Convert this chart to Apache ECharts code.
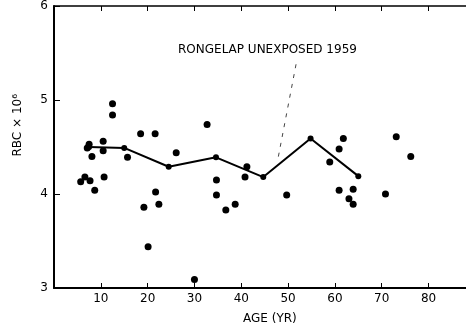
<!DOCTYPE html>
<html>
<head>
<meta charset="utf-8">
<script src="https://cdn.jsdelivr.net/npm/echarts@6/dist/echarts.min.js"></script>
<style>html,body{margin:0;padding:0;background:#fff;}#c{width:466px;height:327px;}</style>
</head>
<body>
<div id="c"></div>
<script>
// Individual observations
const ages = [5.7, 6.6, 7.7, 8.7, 7.5, 7.1, 8.1, 10.5, 10.5, 10.7, 12.5, 12.5, 15.7, 18.5, 19.2, 20.1, 21.6, 21.7, 22.4, 26.1, 30.0, 32.7, 34.7, 34.7, 36.7, 38.7, 40.8, 41.2, 49.7, 58.9, 60.9, 61.8, 60.9, 63.9, 63.0, 63.9, 70.8, 73.1, 76.2];
const rbc  = [4.13, 4.18, 4.14, 4.04, 4.53, 4.49, 4.40, 4.56, 4.46, 4.18, 4.96, 4.84, 4.39, 4.64, 3.86, 3.44, 4.64, 4.02, 3.89, 4.44, 3.09, 4.74, 4.15, 3.99, 3.83, 3.89, 4.18, 4.29, 3.99, 4.34, 4.48, 4.59, 4.04, 4.05, 3.95, 3.89, 4.00, 4.61, 4.40];
// Group means (connected line)
const meanAges = [7.5, 15, 24.5, 34.6, 44.7, 54.8, 65];
const meanRbc  = [4.50, 4.49, 4.29, 4.39, 4.18, 4.59, 4.19];
// Leader line from annotation
const leaderAges = [51.7, 47.7];
const leaderRbc  = [5.38, 4.34];
// Tick values
const xTicks = [10, 20, 30, 40, 50, 60, 70, 80];
const yTicks = [3, 4, 5, 6];

const FONT = 'DejaVu Sans';
const INK = '#000';
const chart = echarts.init(document.getElementById('c'), null, {renderer: 'canvas'});
chart.setOption({
  backgroundColor: '#fff',
  animation: false,
  grid: {left: 54, top: 6, right: 0, bottom: 39, containLabel: false},
  xAxis: [{
    type: 'value', min: 0, max: 88, interval: 10, position: 'bottom',
    axisLine: {show: true, onZero: false, lineStyle: {color: INK, width: 2}},
    axisTick: {show: true, inside: true, length: 5, lineStyle: {color: INK, width: 1}},
    axisLabel: {show: true, showMinLabel: false, showMaxLabel: false, color: INK, fontSize: 12, fontFamily: FONT, margin: 5,
      formatter: v => xTicks.includes(v) ? String(v) : ''},
    splitLine: {show: false}
  }, {
    type: 'value', min: 0, max: 88, interval: 10, position: 'top',
    axisLine: {show: true, onZero: false, lineStyle: {color: INK, width: 1.5}},
    axisTick: {show: true, inside: true, length: 5, lineStyle: {color: INK, width: 1}},
    axisLabel: {show: false},
    splitLine: {show: false}
  }],
  yAxis: {
    type: 'value', min: 3, max: 6, interval: 1,
    axisLine: {show: true, onZero: false, lineStyle: {color: INK, width: 2}},
    axisTick: {show: true, inside: true, length: 6, lineStyle: {color: INK, width: 1}},
    axisLabel: {color: INK, fontSize: 12, fontFamily: FONT, margin: 6,
      formatter: v => yTicks.includes(v) ? String(v) : ''},
    splitLine: {show: false}
  },
  series: [{
    type: 'scatter', symbol: 'circle', symbolSize: 7,
    itemStyle: {color: INK, opacity: 1},
    data: ages.map((a, i) => [a, rbc[i]])
  }, {
    type: 'line', symbol: 'circle', symbolSize: 6, showSymbol: true,
    lineStyle: {color: INK, width: 2}, itemStyle: {color: INK, opacity: 1},
    data: meanAges.map((a, i) => [a, meanRbc[i]])
  }, {
    type: 'line', symbol: 'none',
    lineStyle: {color: '#444', width: 1, type: [4, 6]},
    data: leaderAges.map((a, i) => [a, leaderRbc[i]])
  }],
  graphic: [{
    type: 'text', left: 178, top: 44,
    style: {text: 'RONGELAP UNEXPOSED 1959', fill: INK, fontSize: 12, fontFamily: FONT}
  }, {
    type: 'text', left: 243, top: 313,
    style: {text: 'AGE (YR)', fill: INK, fontSize: 12, fontFamily: FONT}
  }, {
    type: 'text', left: 12, top: 94, rotation: Math.PI / 2,
    style: {text: 'RBC × 10⁶', fill: INK, fontSize: 12, fontFamily: FONT}
  }]
});
</script>
</body>
</html>
